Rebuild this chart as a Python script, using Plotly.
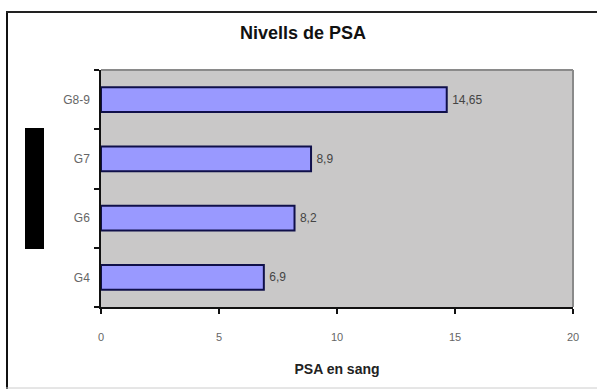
import plotly.graph_objects as go

# Data
categories = ["G4", "G6", "G7", "G8-9"]
psa_values = [6.9, 8.2, 8.9, 14.65]
value_labels = [str(v).replace(".", ",") for v in psa_values]
x_ticks = [0, 5, 10, 15, 20]
x_tick_labels = ["0", "5", "10", "15", "20"]

W, H = 597, 390
L, R, T, B = 101, 24, 70, 83
pw, ph = W - L - R, H - T - B

def px(x):
    return (x - L) / pw

def py(y):
    return (H - B - y) / ph

fig = go.Figure()
fig.add_trace(go.Bar(
    y=categories,
    x=psa_values,
    orientation="h",
    width=0.42,
    marker=dict(color="#9999ff", line=dict(color="#10104a", width=2)),
    text=["\u2009" + t for t in value_labels],
    textposition="outside",
    textfont=dict(family="Arial", size=12, color="#444444"),
    cliponaxis=False,
    hoverinfo="skip",
))

shapes = [
    # outer frame
    dict(type="line", xref="paper", yref="paper", x0=px(7), x1=px(7), y0=py(12), y1=py(389),
         line=dict(color="#111111", width=2)),
    dict(type="line", xref="paper", yref="paper", x0=px(6), x1=px(600), y0=py(12), y1=py(12),
         line=dict(color="#222222", width=2)),
    dict(type="line", xref="paper", yref="paper", x0=px(6), x1=px(600), y0=py(388), y1=py(388),
         line=dict(color="#cccccc", width=1)),
    # black block (y-axis title area)
    dict(type="rect", xref="paper", yref="paper", x0=px(25), x1=px(44), y0=py(249), y1=py(128),
         fillcolor="#000000", line=dict(width=0)),
    # plot area top and right border
    dict(type="line", xref="paper", yref="paper", x0=0, x1=1, y0=1, y1=1,
         line=dict(color="#8a8a8a", width=2)),
    dict(type="line", xref="paper", yref="paper", x0=1, x1=1, y0=0, y1=1,
         line=dict(color="#8a8a8a", width=2)),
]

fig.update_layout(
    width=W, height=H,
    margin=dict(l=L, r=R, t=T, b=B),
    paper_bgcolor="#ffffff",
    plot_bgcolor="#c9c8c8",
    showlegend=False,
    font=dict(family="Arial", size=11, color="#555555"),
    title=dict(text="<b>Nivells de PSA</b>", x=303 / W, xanchor="center",
               y=1 - 33 / H, yanchor="middle",
               font=dict(family="Arial", size=18, color="#111111")),
    xaxis=dict(range=[0, 20], tickvals=x_ticks, ticktext=x_tick_labels,
               showgrid=False, zeroline=False, showline=True, linecolor="#111111", linewidth=1.5,
               ticks="outside", ticklen=5, tickcolor="#111111", tickwidth=1.5,
               ticklabelstandoff=14,
               tickfont=dict(family="Arial", size=11, color="#666666"),
               title=dict(text="<b>PSA en sang</b>", standoff=22,
                          font=dict(family="Arial", size=14, color="#222222"))),
    yaxis=dict(categoryorder="array", categoryarray=categories,
               showgrid=False, zeroline=False, showline=True, linecolor="#111111", linewidth=1.5,
               ticks="outside", ticklen=5, tickcolor="#111111", tickwidth=1.5,
               tickson="boundaries", ticklabelstandoff=7,
               tickfont=dict(family="Arial", size=12, color="#666666")),
    shapes=shapes,
)

fig.write_html("out.html")
